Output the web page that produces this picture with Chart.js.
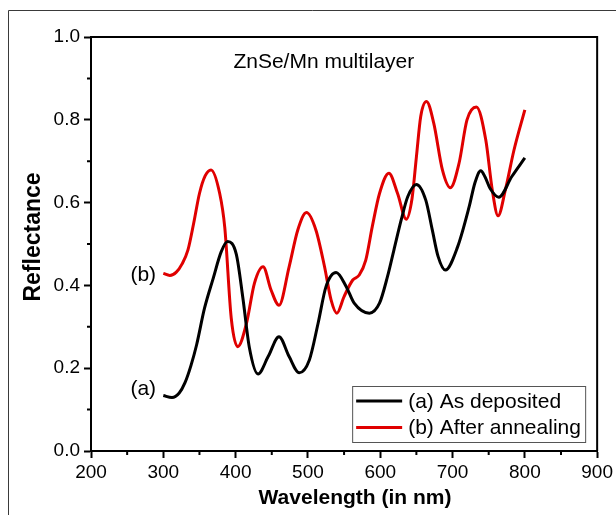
<!DOCTYPE html>
<html>
<head>
<meta charset="utf-8">
<title>ZnSe/Mn multilayer reflectance</title>
<script src="https://cdn.jsdelivr.net/npm/chart.js@4.4.1/dist/chart.umd.min.js"></script>
<style>
    body { margin: 0; background: #fff; }
    canvas { display: block; }
</style>
</head>
<body>
<canvas id="reflectChart" width="616" height="515"></canvas>
<script>
// --- DATA ---
const wavelengthA = [300, 312, 322, 330, 338, 346, 357, 369, 380, 389, 401, 410, 419, 431, 445, 460, 474, 488, 502, 514, 525, 539, 553, 564, 585, 599, 610, 619, 629, 638, 650, 663, 672, 680, 690, 707, 723, 731, 739, 745, 752, 764, 782, 800];
const reflectA    = [0.134, 0.129, 0.140, 0.165, 0.205, 0.256, 0.345, 0.417, 0.481, 0.506, 0.475, 0.370, 0.250, 0.186, 0.228, 0.276, 0.228, 0.189, 0.220, 0.308, 0.397, 0.431, 0.397, 0.357, 0.333, 0.357, 0.421, 0.486, 0.558, 0.614, 0.644, 0.606, 0.534, 0.470, 0.437, 0.493, 0.590, 0.648, 0.677, 0.662, 0.634, 0.613, 0.663, 0.708];

const wavelengthB = [300, 309, 318, 326, 334, 342, 350, 358, 366, 378, 385, 394, 403, 415, 426, 438, 449, 460, 474, 486, 498, 511, 523, 532, 540, 550, 562, 571, 580, 589, 599, 612, 624, 636, 644, 650, 656, 664, 674, 686, 697, 709, 720, 733, 746, 755, 763, 773, 785, 800];
const reflectB    = [0.429, 0.424, 0.432, 0.452, 0.485, 0.550, 0.622, 0.665, 0.679, 0.622, 0.540, 0.320, 0.252, 0.308, 0.405, 0.445, 0.389, 0.352, 0.445, 0.534, 0.576, 0.534, 0.445, 0.365, 0.333, 0.373, 0.413, 0.425, 0.461, 0.542, 0.622, 0.671, 0.622, 0.560, 0.610, 0.710, 0.808, 0.844, 0.792, 0.679, 0.636, 0.695, 0.800, 0.831, 0.751, 0.630, 0.568, 0.630, 0.727, 0.824];

const seriesLabels = ['(a) As deposited', '(b) After annealing'];
const xTicks = [200, 300, 400, 500, 600, 700, 800, 900];
const yTicks = [0.0, 0.2, 0.4, 0.6, 0.8, 1.0];

const FONT = "'Liberation Sans', Arial, Helvetica, sans-serif";
const BLACK = '#000000';
const RED = '#e00000';

const toPoints = (xs, ys) => xs.map((x, i) => ({ x: x, y: ys[i] }));
const isMajorX = (v) => xTicks.includes(Math.round(v));
const isMajorY = (v) => yTicks.some(t => Math.abs(t - v) < 1e-6);

// --- EXTRA DRAWING: frame, minor ticks, texts, legend ---
const decorPlugin = {
    id: 'decor',
    beforeDraw(chart) {
        const ctx = chart.ctx;
        ctx.save();
        ctx.fillStyle = '#fff';
        ctx.fillRect(0, 0, chart.width, chart.height);
        ctx.strokeStyle = '#3a3a3a';
        ctx.lineWidth = 1;
        ctx.beginPath();
        ctx.moveTo(8.5, chart.height);
        ctx.lineTo(8.5, 10.5);
        ctx.lineTo(chart.width, 10.5);
        ctx.stroke();
        ctx.restore();
    },
    afterDraw(chart) {
        const ctx = chart.ctx;
        const area = chart.chartArea;
        const xs = chart.scales.x;
        const ys = chart.scales.y;
        ctx.save();

        // top and right border of the plot box
        ctx.strokeStyle = BLACK;
        ctx.lineWidth = 2;
        ctx.beginPath();
        ctx.moveTo(area.left, area.top);
        ctx.lineTo(area.right, area.top);
        ctx.lineTo(area.right, area.bottom);
        ctx.stroke();

        // minor ticks
        ctx.beginPath();
        xs.ticks.forEach(t => {
            if (isMajorX(t.value)) return;
            const px = xs.getPixelForValue(t.value);
            ctx.moveTo(px, area.bottom);
            ctx.lineTo(px, area.bottom + 4);
        });
        ys.ticks.forEach(t => {
            if (isMajorY(t.value)) return;
            const py = ys.getPixelForValue(t.value);
            ctx.moveTo(area.left, py);
            ctx.lineTo(area.left - 4, py);
        });
        ctx.stroke();

        // annotations
        ctx.fillStyle = BLACK;
        ctx.font = `21px ${FONT}`;
        ctx.textAlign = 'center';
        ctx.textBaseline = 'alphabetic';
        ctx.fillText('ZnSe/Mn multilayer', xs.getPixelForValue(522), ys.getPixelForValue(0.926));
        ctx.textAlign = 'right';
        ctx.textBaseline = 'middle';
        ctx.fillText('(b)', xs.getPixelForValue(290), ys.getPixelForValue(0.425));
        ctx.fillText('(a)', xs.getPixelForValue(290), ys.getPixelForValue(0.149));

        // axis titles
        ctx.font = `bold 21px ${FONT}`;
        ctx.textAlign = 'center';
        ctx.fillText('Wavelength (in nm)', 355, 498);
        ctx.save();
        ctx.translate(34, 237);
        ctx.rotate(-Math.PI / 2);
        ctx.font = `bold 23px ${FONT}`;
        ctx.fillText('Reflectance', 0, 0);
        ctx.restore();

        // legend box
        const lgLeft = area.right - 245, lgTop = area.bottom - 65;
        const lgW = 233, lgH = 56;
        ctx.fillStyle = '#fff';
        ctx.fillRect(lgLeft, lgTop, lgW, lgH);
        ctx.strokeStyle = '#555';
        ctx.lineWidth = 1;
        ctx.strokeRect(lgLeft + 0.5, lgTop + 0.5, lgW, lgH);
        chart.data.datasets.forEach((ds, i) => {
            const rowY = lgTop + 15 + i * 26.5;
            ctx.strokeStyle = ds.borderColor;
            ctx.lineWidth = 3;
            ctx.beginPath();
            ctx.moveTo(lgLeft + 4, rowY);
            ctx.lineTo(lgLeft + 50, rowY);
            ctx.stroke();
            ctx.fillStyle = BLACK;
            ctx.font = `21px ${FONT}`;
            ctx.textAlign = 'left';
            ctx.textBaseline = 'middle';
            ctx.fillText(ds.label, lgLeft + 56, rowY + 1);
        });
        ctx.restore();
    }
};

const ctx = document.getElementById('reflectChart').getContext('2d');
Chart.defaults.color = BLACK;
Chart.defaults.font.family = FONT;

new Chart(ctx, {
    type: 'line',
    data: {
        datasets: [
            {
                label: seriesLabels[0],
                data: toPoints(wavelengthA, reflectA),
                borderColor: BLACK,
                borderWidth: 3,
                pointRadius: 0,
                fill: false,
                cubicInterpolationMode: 'monotone'
            },
            {
                label: seriesLabels[1],
                data: toPoints(wavelengthB, reflectB),
                borderColor: RED,
                borderWidth: 3,
                pointRadius: 0,
                fill: false,
                cubicInterpolationMode: 'monotone'
            }
        ]
    },
    options: {
        responsive: false,
        animation: false,
        devicePixelRatio: 1,
        layout: { padding: { top: 37, right: 18, left: 0, bottom: 0 } },
        plugins: {
            legend: { display: false },
            tooltip: { enabled: false }
        },
        scales: {
            x: {
                type: 'linear',
                min: 200,
                max: 900,
                afterFit: (s) => { s.height = 64; },
                ticks: {
                    stepSize: 50,
                    autoSkip: false,
                    maxRotation: 0,
                    padding: 3,
                    color: BLACK,
                    font: { size: 19, family: FONT },
                    callback: (v) => isMajorX(v) ? String(v) : ''
                },
                grid: {
                    drawOnChartArea: false,
                    tickLength: 7,
                    tickWidth: 2,
                    tickColor: (c) => (c.tick && isMajorX(c.tick.value)) ? BLACK : 'rgba(0,0,0,0)'
                },
                border: { color: BLACK, width: 2 }
            },
            y: {
                type: 'linear',
                min: 0,
                max: 1,
                afterFit: (s) => { s.width = 91; },
                ticks: {
                    stepSize: 0.1,
                    autoSkip: false,
                    padding: 4,
                    color: BLACK,
                    font: { size: 19, family: FONT },
                    callback: (v) => isMajorY(v) ? v.toFixed(1) : ''
                },
                grid: {
                    drawOnChartArea: false,
                    tickLength: 7,
                    tickWidth: 2,
                    tickColor: (c) => (c.tick && isMajorY(c.tick.value)) ? BLACK : 'rgba(0,0,0,0)'
                },
                border: { color: BLACK, width: 2 }
            }
        }
    },
    plugins: [decorPlugin]
});
</script>
</body>
</html>
